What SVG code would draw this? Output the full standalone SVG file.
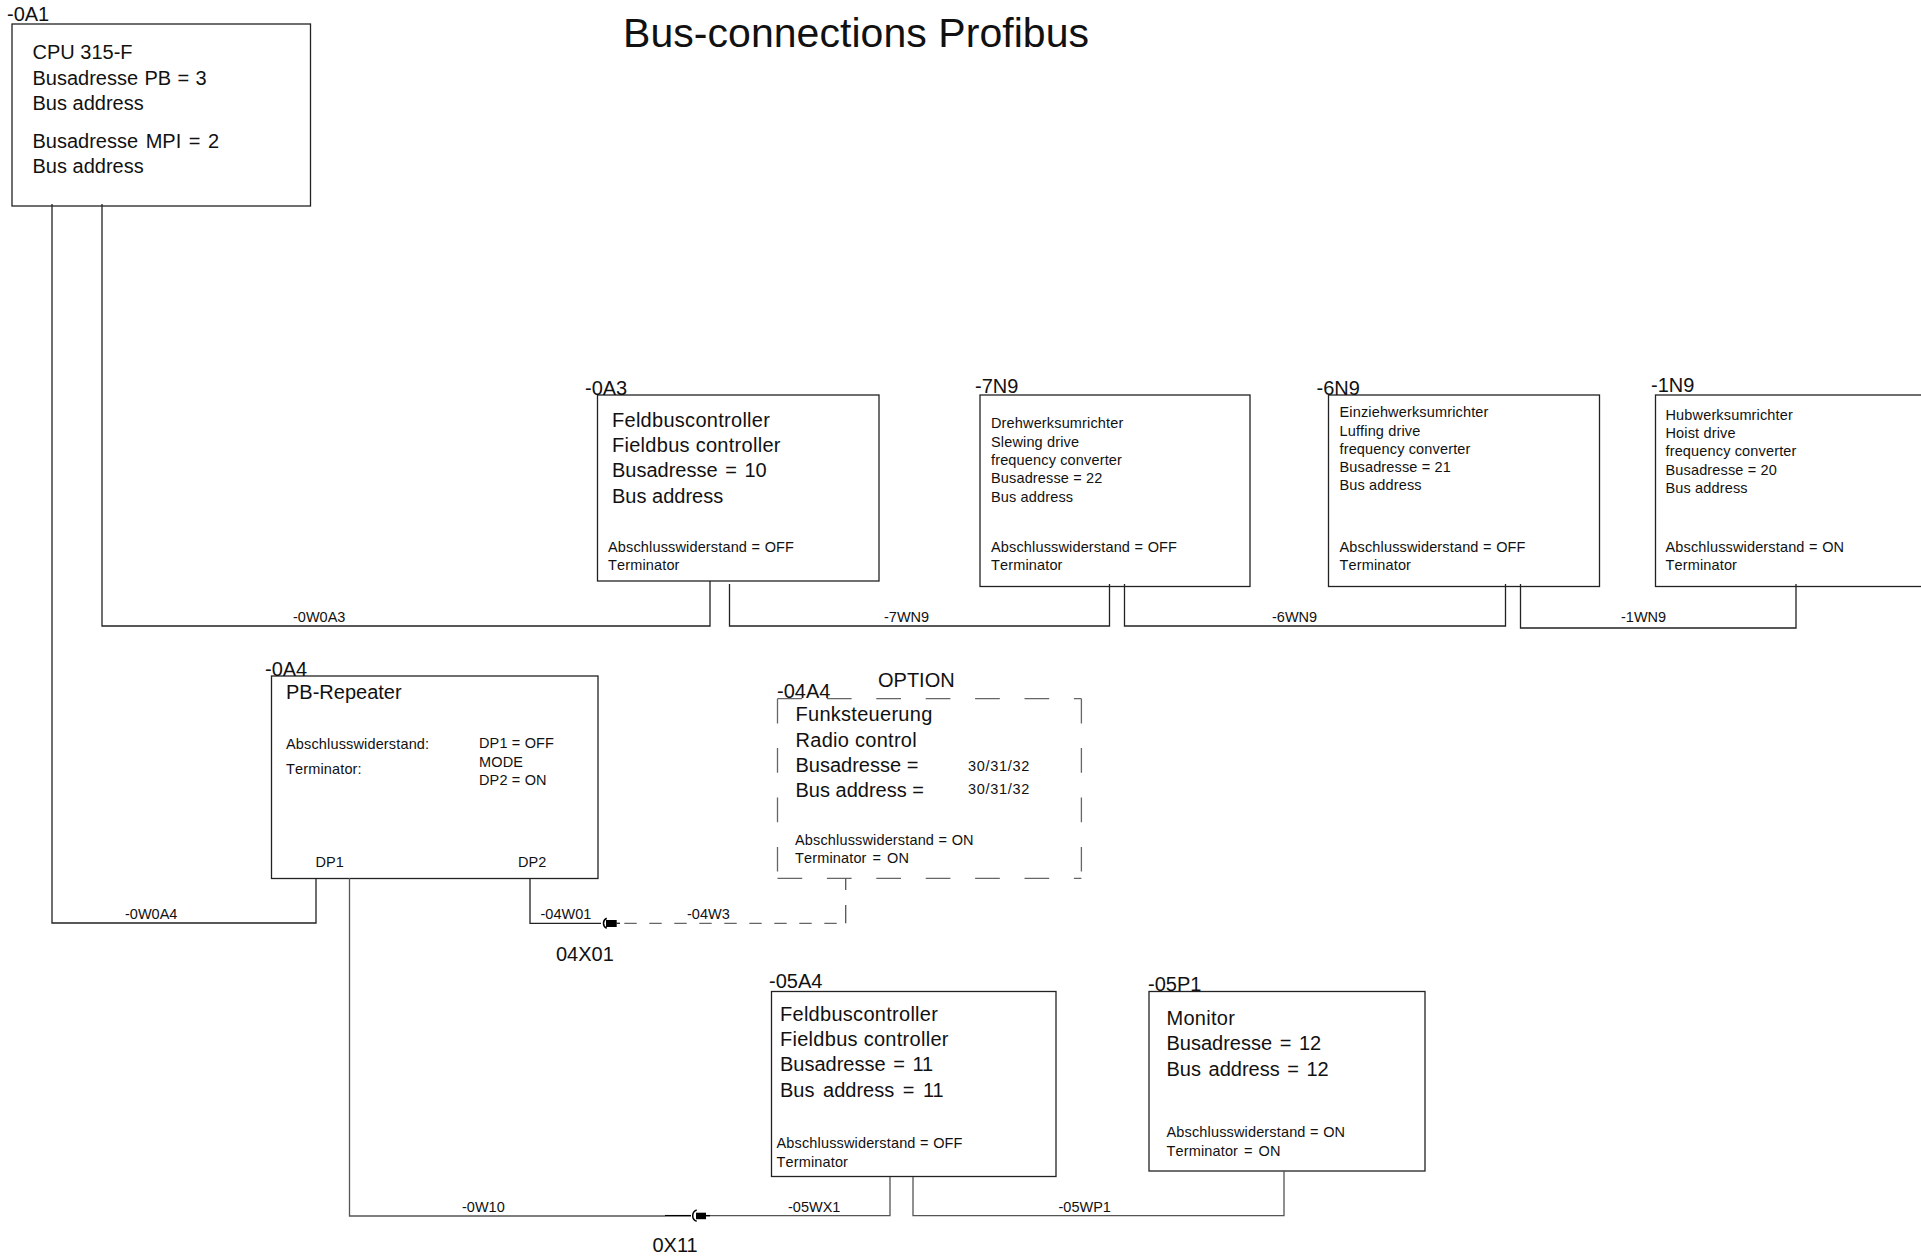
<svg xmlns="http://www.w3.org/2000/svg" width="1921" height="1258" viewBox="0 0 1921 1258">
<style>
text{font-family:"Liberation Sans",Arial,sans-serif;fill:#111}
.t{font-size:41px;letter-spacing:.05px}
.m{font-size:20px}
.s{font-size:14.5px;font-kerning:none;letter-spacing:.15px}
.l{letter-spacing:.28px}
.e{word-spacing:2px}
.e1{word-spacing:.8px}
.e0{word-spacing:.3px}
.e2{word-spacing:1.7px}
.e3{word-spacing:3px}
.n{letter-spacing:.7px}
.x{font-kerning:auto;letter-spacing:0}
.b{fill:#fff;stroke:#222;stroke-width:1.3}
.w{fill:none;stroke:#222;stroke-width:1.3}
.g{fill:none;stroke:#555;stroke-width:1.3}
.d{fill:none;stroke:#666;stroke-width:1.3;stroke-dasharray:24.7 24.7}
.d2{fill:none;stroke:#666;stroke-width:1.3;stroke-dasharray:12.4 12.6}
.c{fill:#000}
.a{fill:none;stroke:#000;stroke-width:1.5}
</style>
<rect width="1921" height="1258" fill="#fff"/>
<text class="t" x="623" y="47">Bus-connections Profibus</text>
<g id="node-0A1">
<rect class="b" x="12" y="24" width="298.5" height="182"/>
<text class="m" x="7" y="21">-0A1</text>
<text class="m" x="32.5" y="59">CPU 315-F</text>
<text class="m e1" x="32.5" y="85">Busadresse PB = 3</text>
<text class="m" x="32.5" y="110">Bus address</text>
<text class="m e" x="32.5" y="148">Busadresse MPI = 2</text>
<text class="m" x="32.5" y="173">Bus address</text>
</g>
<g id="node-0A3">
<rect class="b" x="597.5" y="395" width="281.5" height="186"/>
<text class="m" x="585" y="395">-0A3</text>
<text class="m l" x="612" y="427">Feldbuscontroller</text>
<text class="m l" x="612" y="452">Fieldbus controller</text>
<text class="m e" x="612" y="477">Busadresse = 10</text>
<text class="m" x="612" y="503">Bus address</text>
<text class="s e0" x="608" y="552">Abschlusswiderstand = OFF</text>
<text class="s" x="608" y="570">Terminator</text>
</g>
<g id="node-7N9">
<rect class="b" x="980" y="395" width="270" height="191.5"/>
<text class="m" x="975" y="393">-7N9</text>
<text class="s" x="991" y="428">Drehwerksumrichter</text>
<text class="s" x="991" y="447">Slewing drive</text>
<text class="s" x="991" y="465">frequency converter</text>
<text class="s" x="991" y="483">Busadresse = 22</text>
<text class="s" x="991" y="502">Bus address</text>
<text class="s e0" x="991" y="552">Abschlusswiderstand = OFF</text>
<text class="s" x="991" y="570">Terminator</text>
</g>
<g id="node-6N9">
<rect class="b" x="1328.5" y="395" width="271" height="191.5"/>
<text class="m" x="1316.5" y="395">-6N9</text>
<text class="s" x="1339.5" y="417">Einziehwerksumrichter</text>
<text class="s" x="1339.5" y="436">Luffing drive</text>
<text class="s" x="1339.5" y="454">frequency converter</text>
<text class="s" x="1339.5" y="472">Busadresse = 21</text>
<text class="s" x="1339.5" y="490">Bus address</text>
<text class="s e0" x="1339.5" y="552">Abschlusswiderstand = OFF</text>
<text class="s" x="1339.5" y="570">Terminator</text>
</g>
<g id="node-1N9">
<rect class="b" x="1655.5" y="395" width="280" height="191.5"/>
<text class="m" x="1651" y="392">-1N9</text>
<text class="s" x="1665.5" y="420">Hubwerksumrichter</text>
<text class="s" x="1665.5" y="438">Hoist drive</text>
<text class="s" x="1665.5" y="456">frequency converter</text>
<text class="s" x="1665.5" y="475">Busadresse = 20</text>
<text class="s" x="1665.5" y="493">Bus address</text>
<text class="s e0" x="1665.5" y="552">Abschlusswiderstand = ON</text>
<text class="s" x="1665.5" y="570">Terminator</text>
</g>
<g id="node-0A4">
<rect class="b" x="271.5" y="676" width="326.5" height="202.5"/>
<text class="m" x="265" y="676">-0A4</text>
<text class="m" x="286" y="699">PB-Repeater</text>
<text class="s" x="286" y="749">Abschlusswiderstand:</text>
<text class="s" x="286" y="774">Terminator:</text>
<text class="s" x="479" y="748">DP1 = OFF</text>
<text class="s" x="479" y="767">MODE</text>
<text class="s" x="479" y="785">DP2 = ON</text>
<text class="s x" x="315.5" y="867">DP1</text>
<text class="s x" x="518" y="867">DP2</text>
</g>
<g id="node-04A4">
<path class="d" d="M777.5 698.7H1081.4"/>
<path class="d" d="M777.5 878.3H1081.4"/>
<path class="d" d="M777.5 698.7V878.3"/>
<path class="d" d="M1081.4 698.7V878.3"/>
<text class="m" x="878" y="687">OPTION</text>
<text class="m" x="777" y="698">-04A4</text>
<text class="m l" x="795.5" y="721">Funksteuerung</text>
<text class="m l" x="795.5" y="747">Radio control</text>
<text class="m" x="795.5" y="772">Busadresse =</text>
<text class="m" x="795.5" y="797">Bus address =</text>
<text class="s n" x="968" y="771">30/31/32</text>
<text class="s n" x="968" y="794">30/31/32</text>
<text class="s e0" x="795" y="845">Abschlusswiderstand = ON</text>
<text class="s e2" x="795" y="863">Terminator = ON</text>
</g>
<g id="node-05A4">
<rect class="b" x="771.5" y="991.5" width="284.5" height="185"/>
<text class="m" x="769" y="988">-05A4</text>
<text class="m l" x="780" y="1021">Feldbuscontroller</text>
<text class="m l" x="780" y="1046">Fieldbus controller</text>
<text class="m e" x="780" y="1071">Busadresse = 11</text>
<text class="m e3" x="780" y="1097">Bus address = 11</text>
<text class="s e0" x="776.5" y="1148">Abschlusswiderstand = OFF</text>
<text class="s" x="776.5" y="1167">Terminator</text>
</g>
<g id="node-05P1">
<rect class="b" x="1149" y="991.5" width="276" height="179.5"/>
<text class="m" x="1148" y="991">-05P1</text>
<text class="m l" x="1166.5" y="1025">Monitor</text>
<text class="m e" x="1166.5" y="1050">Busadresse = 12</text>
<text class="m e" x="1166.5" y="1076">Bus address = 12</text>
<text class="s e0" x="1166.5" y="1137">Abschlusswiderstand = ON</text>
<text class="s e2" x="1166.5" y="1156">Terminator = ON</text>
</g>
<g id="connectors">
<path class="w" d="M102 204V626H710V581"/>
<path class="w" d="M729.5 584V626H1109.5V584"/>
<path class="w" d="M1124.5 584V626H1505.5V584"/>
<path class="w" d="M1520.5 584V628H1796V584"/>
<path class="w" d="M52 204V923H316V878"/>
<path class="w" d="M530 878V923.3H601"/>
<path class="a" d="M606.7 918.3A5.5 5.5 0 0 0 606.7 928.3"/>
<rect class="c" x="606" y="920" width="10.7" height="7"/>
<path class="w" d="M616 923.3H620"/>
<path class="d2" d="M624.3 923.3H846"/>
<path class="g" d="M845.7 878.3V890M845.7 905V923.3"/>
<path class="g" d="M349.5 878V1216H665"/>
<path class="a" d="M665 1215.7H691"/>
<path class="a" d="M696.7 1210A6 6 0 0 0 696.7 1221.3"/>
<rect class="c" x="696" y="1212.7" width="10" height="6.5"/>
<path class="a" d="M706 1215.7H710"/>
<path class="g" d="M710 1215.7H890V1177"/>
<path class="g" d="M913 1177V1215.7H1284V1171"/>
<text class="s x" x="293" y="622">-0W0A3</text>
<text class="s x" x="884" y="622">-7WN9</text>
<text class="s x" x="1272" y="622">-6WN9</text>
<text class="s x" x="1621" y="622">-1WN9</text>
<text class="s x" x="125" y="919">-0W0A4</text>
<text class="s x" x="540.5" y="919">-04W01</text>
<text class="s x" x="687" y="919">-04W3</text>
<text class="s x" x="462" y="1212">-0W10</text>
<text class="s x" x="788" y="1212">-05WX1</text>
<text class="s x" x="1058.5" y="1212">-05WP1</text>
<text class="m" x="556" y="961">04X01</text>
<text class="m" x="652.5" y="1252">0X11</text>
</g>
</svg>
